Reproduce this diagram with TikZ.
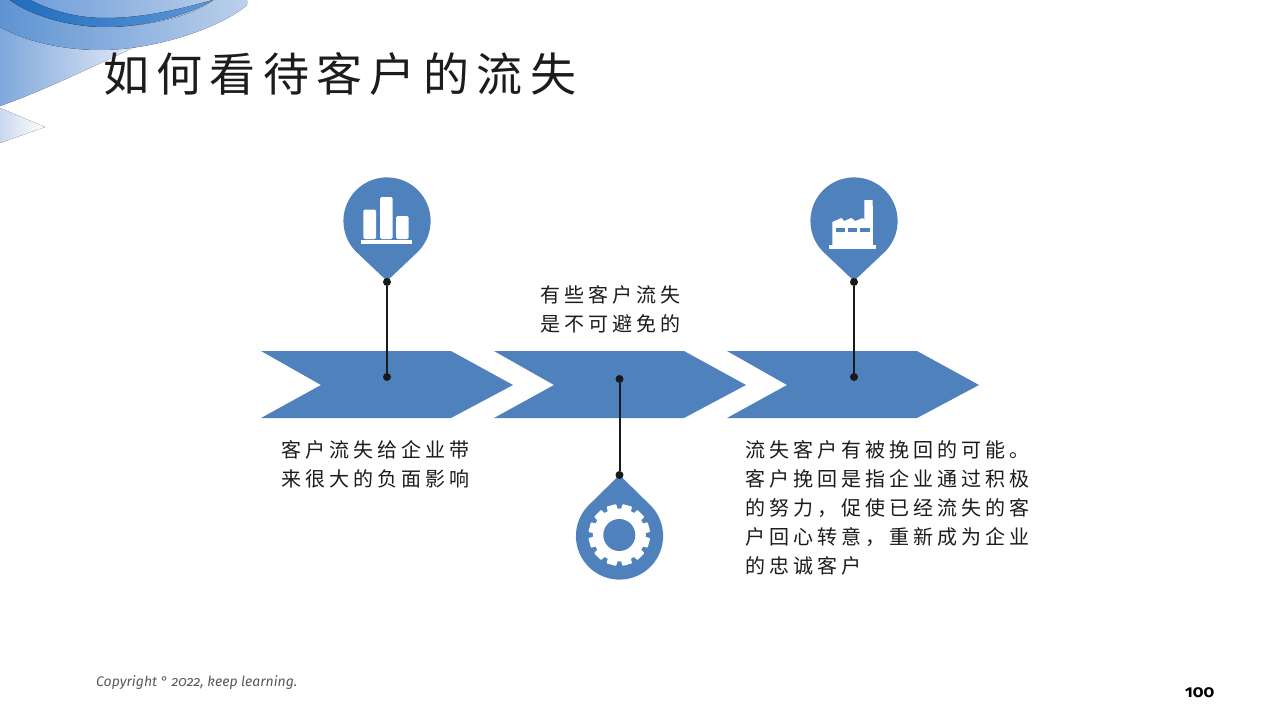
\documentclass[tikz,border=0pt]{standalone}
\usepackage{fontspec}
\usetikzlibrary{calc}
\newfontfamily\cjktitle[LetterSpace=16]{Noto Sans CJK SC}
\newfontfamily\cjkbody[LetterSpace=20]{Noto Sans CJK SC}
\newfontfamily\oldnum[Numbers=OldStyle]{Fira Sans}
\definecolor{accent}{HTML}{4F81BD}
\definecolor{inkdark}{HTML}{1C1C1C}
\definecolor{wedgeL}{HTML}{7FA8DC}
\definecolor{wedgeR}{HTML}{E4EBF6}
\definecolor{bandL}{HTML}{5E93D2}
\definecolor{bandR}{HTML}{BCD0EB}
\definecolor{capL}{HTML}{6A9ADA}
\definecolor{capR}{HTML}{B4CAE8}
\definecolor{stripeL}{HTML}{1F6DBE}
\definecolor{stripeR}{HTML}{5F96D6}
\definecolor{tipL}{HTML}{C9D8EF}
\tikzset{
  chevron/.style={fill=accent,draw=none},
  pin/.style={fill=accent,draw=none},
  glyph/.style={fill=white,draw=none},
  dot/.style={circle,fill=black!90,draw=none,minimum size=8pt,inner sep=0pt},
  stem/.style={draw=black!90,line width=2pt},
  bodytext/.style={inner sep=0pt,anchor=north west,align=left,text=inkdark,font=\cjkbody\fontsize{20}{29}\selectfont},
}
\begin{document}
\begin{tikzpicture}[x=1pt,y=-1pt]
\useasboundingbox (0,0) rectangle (1280,720);
\fill[white] (0,0) rectangle (1280,720);
% corner decoration
\fill[left color=tipL,right color=white] (0,108) -- (45,127) -- (0,143) -- cycle;
\fill[left color=wedgeL,right color=wedgeR] (0,20) -- (137,46) .. controls (90,68) and (40,92) .. (0,106) -- cycle;
\fill[left color=bandL,right color=bandR] (0,27) .. controls (30,44) and (70,50) .. (100,50) .. controls (160,50) and (225,25) .. (247,5) -- (247,0) -- (0,0) -- cycle;
\fill[left color=capL,right color=capR] (10,0) .. controls (35,18) and (75,27) .. (105,27) .. controls (150,27) and (195,15) .. (213,0) -- cycle;
\fill[left color=stripeL,right color=stripeR] (10,0) .. controls (35,18) and (75,27) .. (105,27) .. controls (150,27) and (195,12) .. (213,0) .. controls (190,6) and (150,18) .. (105,18) .. controls (75,18) and (50,10) .. (30,0) -- cycle;
% chevrons
\foreach \dx in {0,233,466}{
  \fill[chevron,xshift=\dx pt] (261,351) -- (451,351) -- (513,385) -- (451,418) -- (261,418) -- (321,385) -- cycle;
}
% pins
\fill[pin] (387,281) -- ($(387,221)+(-31.6,30)$) arc[start angle=136.5,end angle=403.5,radius=43.6] -- cycle;
\fill[pin] (854,281) -- ($(854,221)+(-31.6,30)$) arc[start angle=136.5,end angle=403.5,radius=43.6] -- cycle;
\fill[pin] (619.5,475) -- ($(619.5,536)+(-31.6,-30)$) arc[start angle=223.5,end angle=-43.5,radius=43.6] -- cycle;
% dots and stems
\node[dot] (d1a) at (387,282) {};
\node[dot] (d1b) at (387,377) {};
\node[dot] (d2a) at (619.5,379) {};
\node[dot] (d2b) at (619.5,475) {};
\node[dot] (d3a) at (854,282) {};
\node[dot] (d3b) at (854,377) {};
\draw[stem] (d1a) -- (d1b);
\draw[stem] (d2a) -- (d2b);
\draw[stem] (d3a) -- (d3b);
% bar chart icon
\fill[glyph,rounded corners=1.5pt] (363.3,239) -- (363.3,209.5) -- (376,209.5) -- (376,239) -- cycle;
\fill[glyph,rounded corners=1.5pt] (380,239) -- (380,197) -- (392.7,197) -- (392.7,239) -- cycle;
\fill[glyph,rounded corners=1.5pt] (396,239) -- (396,216) -- (408.7,216) -- (408.7,239) -- cycle;
\fill[glyph] (361,240) rectangle (412,244);
% factory icon
\fill[glyph] (864.3,200) -- (872.7,200) -- (873,245) -- (832.3,245) -- (832.3,222) -- (841.5,218) -- (844,221) -- (851.5,218) -- (855,221) -- (863,218) -- (864.3,220) -- cycle;
\fill[glyph] (829,245) rectangle (876,248.7);
\fill[accent] (835.7,227.7) rectangle (845,231.7);
\fill[accent] (847.7,227.7) rectangle (857.3,231.7);
\fill[accent] (860,227.7) rectangle (870,231.7);
% gear icon
\fill[glyph] (619.3,535) circle[radius=26.5];
\foreach \a in {0,30,...,330}{
  \fill[glyph,rotate around={\a+15:(619.3,535)},rounded corners=0.8pt] (614.3,504.3) rectangle (624.3,515);
}
\fill[accent] (619.3,535) circle[radius=16];
% texts
\node[inner sep=0pt,anchor=west,text=inkdark,font=\cjktitle\fontsize{46}{50}\selectfont] (title) at (103,74) {如何看待客户的流失};
\node[bodytext] (t1) at (281,440) {客户流失给企业带\\来很大的负面影响};
\node[bodytext] (t2) at (540,285) {有些客户流失\\是不可避免的};
\node[bodytext] (t3) at (745,440) {流失客户有被挽回的可能。\\客户挽回是指企业通过积极\\的努力，促使已经流失的客\\户回心转意，重新成为企业\\的忠诚客户};
\node[inner sep=0pt,anchor=west,text=black!65,font=\oldnum\itshape\fontsize{14}{16}\selectfont] (copy) at (96,683) {Copyright ° 2022, keep learning.};
\node[inner sep=0pt,anchor=west,text=black,font=\oldnum\bfseries\fontsize{17}{18}\selectfont] (num) at (1185,693) {100};
\end{tikzpicture}
\end{document}
